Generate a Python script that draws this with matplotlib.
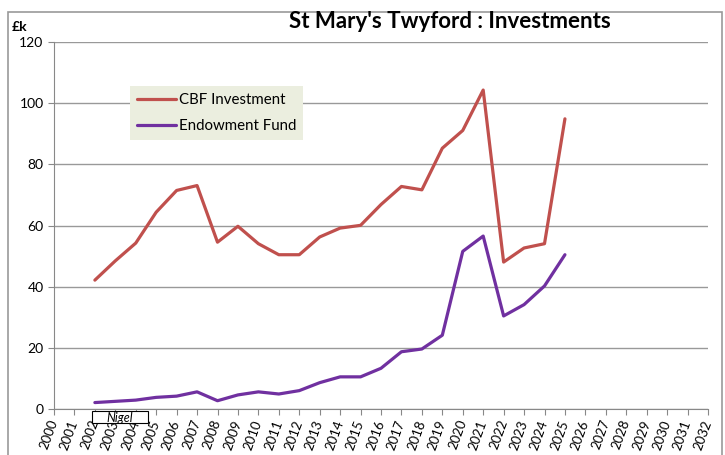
import matplotlib.pyplot as plt
from matplotlib.patches import Rectangle

# data (values in £k)
years = list(range(2000, 2033))
cbf_years = list(range(2002, 2026))
cbf_investment = [42.2, 48.5, 54.3, 64.4, 71.5, 73.1, 54.6, 59.8, 54.1, 50.5, 50.5, 56.3,
                  59.2, 60.1, 66.9, 72.8, 71.7, 85.3, 91.1, 104.3, 48.1, 52.7, 54.1, 94.9]
endowment_fund = [2.2, 2.6, 3.0, 3.9, 4.3, 5.7, 2.8, 4.7, 5.7, 5.0, 6.1, 8.7,
                  10.6, 10.6, 13.4, 18.8, 19.7, 24.2, 51.6, 56.6, 30.5, 34.2, 40.3, 50.5]
y_ticks = [0, 20, 40, 60, 80, 100, 120]

plt.rcParams['font.family'] = ['Lato', 'DejaVu Sans']

fig = plt.figure(figsize=(7.25, 4.55), dpi=100)
W, H = 725, 455
ax = fig.add_axes([54 / W, 1 - 409.3 / H, 654 / W, 367.3 / H])

ax.plot(cbf_years, cbf_investment, color='#C0504D', lw=2.3, label='CBF Investment',
        solid_joinstyle='round', solid_capstyle='round')
ax.plot(cbf_years, endowment_fund, color='#7030A0', lw=2.3, label='Endowment Fund',
        solid_joinstyle='round', solid_capstyle='round')

ax.set_xlim(years[0], years[-1])
ax.set_ylim(0, 120)
ax.set_yticks(y_ticks)
ax.set_xticks(years)
ax.set_xticklabels([str(y) for y in years], rotation=70, ha='right', va='center',
                   rotation_mode='anchor', fontsize=9.5)
ax.tick_params(axis='x', direction='out', length=4, color='#888888', pad=4)
ax.tick_params(axis='y', direction='out', length=4, color='#888888', labelsize=10)
ax.yaxis.grid(True, color='#999999', lw=1)
ax.set_axisbelow(True)
for s in ['top', 'right']:
    ax.spines[s].set_visible(False)
for s in ['left', 'bottom']:
    ax.spines[s].set_color('#888888')

leg = ax.legend(loc='upper left', bbox_to_anchor=(0.116, 0.88), frameon=True,
                fontsize=10.8, handlelength=2.6, handletextpad=0.2, labelspacing=0.8,
                borderpad=0.45, borderaxespad=0, fancybox=False)
leg.get_frame().set_facecolor('#EBEEDF')
leg.get_frame().set_edgecolor('none')
leg.get_frame().set_alpha(1)

fig.text(450 / W, 1 - 22 / H, "St Mary's Twyford : Investments", ha='center', va='center',
         fontsize=16, fontweight='bold')
fig.text(12 / W, 1 - 27 / H, '£k', ha='left', va='center', fontsize=10, fontweight='bold')

# note box over the axis labels
fig.add_artist(Rectangle((92 / W, 1 - 423 / H), 56 / W, 12 / H, transform=fig.transFigure,
                         facecolor='white', edgecolor='black', lw=0.8, zorder=5))
fig.text(120 / W, 1 - 417.5 / H, 'Nigel', ha='center', va='center', fontsize=9,
         style='italic', zorder=6)

# chart area border
fig.add_artist(Rectangle((8 / W, -0.05), 714 / W, 1 - 12 / H + 0.05, transform=fig.transFigure,
                         facecolor='none', edgecolor='#999999', lw=1.2))

fig.savefig('out.png', dpi=100)
